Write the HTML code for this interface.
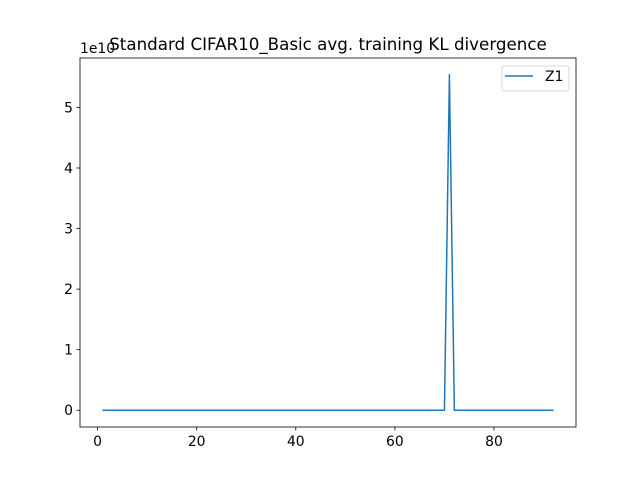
<!DOCTYPE html>
<html><head><meta charset="utf-8"><style>
body{margin:0;background:#fff}
svg{display:block;font-family:"DejaVu Sans","Liberation Sans",sans-serif}
</style></head><body>
<svg id="chart" width="640" height="480">
<rect width="640" height="480" fill="#fff"/>
</svg>
<script>
const xs = [];
for (let i = 1; i <= 92; i++) xs.push(i);
const spikeIndex = 71;
const spikeValue = 5.54;
const values = xs.map(x => x === spikeIndex ? spikeValue : 0);
const xTicks = [0, 20, 40, 60, 80];
const yTicks = [0, 1, 2, 3, 4, 5];

const L=80,R=576,T=58,B=427;
const xMin=-3.55,xMax=96.55,yMin=-0.277,yMax=5.817;
const sx=v=>L+(v-xMin)/(xMax-xMin)*(R-L);
const sy=v=>B-(v-yMin)/(yMax-yMin)*(B-T);
const svg=document.getElementById('chart');
const NS='http://www.w3.org/2000/svg';
function mk(tag,attrs,parent){const e=document.createElementNS(NS,tag);for(const k in attrs)e.setAttribute(k,attrs[k]);(parent||svg).appendChild(e);return e;}

const line=mk('polyline',{points:xs.map((x,i)=>sx(x)+','+sy(values[i])).join(' '),fill:'none',stroke:'#1f77b4','stroke-width':1.5,'stroke-linejoin':'round'});



const frame=mk('rect',{x:L,y:T,width:R-L,height:B-T,fill:'none',stroke:'#000','stroke-width':0.8});



xTicks.forEach(t=>{
  const g=mk('g',{});
  
  
  mk('line',{x1:sx(t),x2:sx(t),y1:B,y2:B+3.5,stroke:'#000','stroke-width':0.8},g);
  const tx=mk('text',{x:sx(t),y:B+19,'text-anchor':'middle','font-size':13.9},g);tx.textContent=t;
});
yTicks.forEach(t=>{
  const g=mk('g',{});
  
  
  mk('line',{x1:L-3.5,x2:L,y1:sy(t),y2:sy(t),stroke:'#000','stroke-width':0.8},g);
  const tx=mk('text',{x:L-7,y:sy(t)+5,'text-anchor':'end','font-size':13.9},g);tx.textContent=t;
});
</script>
<svg style="position:absolute;left:0;top:0" width="640" height="480" font-family="DejaVu Sans, Liberation Sans, sans-serif">
<text x="80" y="53" font-size="13.9">1e10</text>
<text x="328" y="50" text-anchor="middle" font-size="16.7">Standard CIFAR10_Basic avg. training KL divergence</text>
<g>
<rect x="502" y="66" width="67" height="25" rx="2" fill="#fff" stroke="#ccc" stroke-width="0.8"/>
<line x1="505" x2="533" y1="76" y2="76" stroke="#1f77b4" stroke-width="1.5"/>
<text x="545" y="81" font-size="13.9">Z1</text>
</g>
</svg>
</body></html>
